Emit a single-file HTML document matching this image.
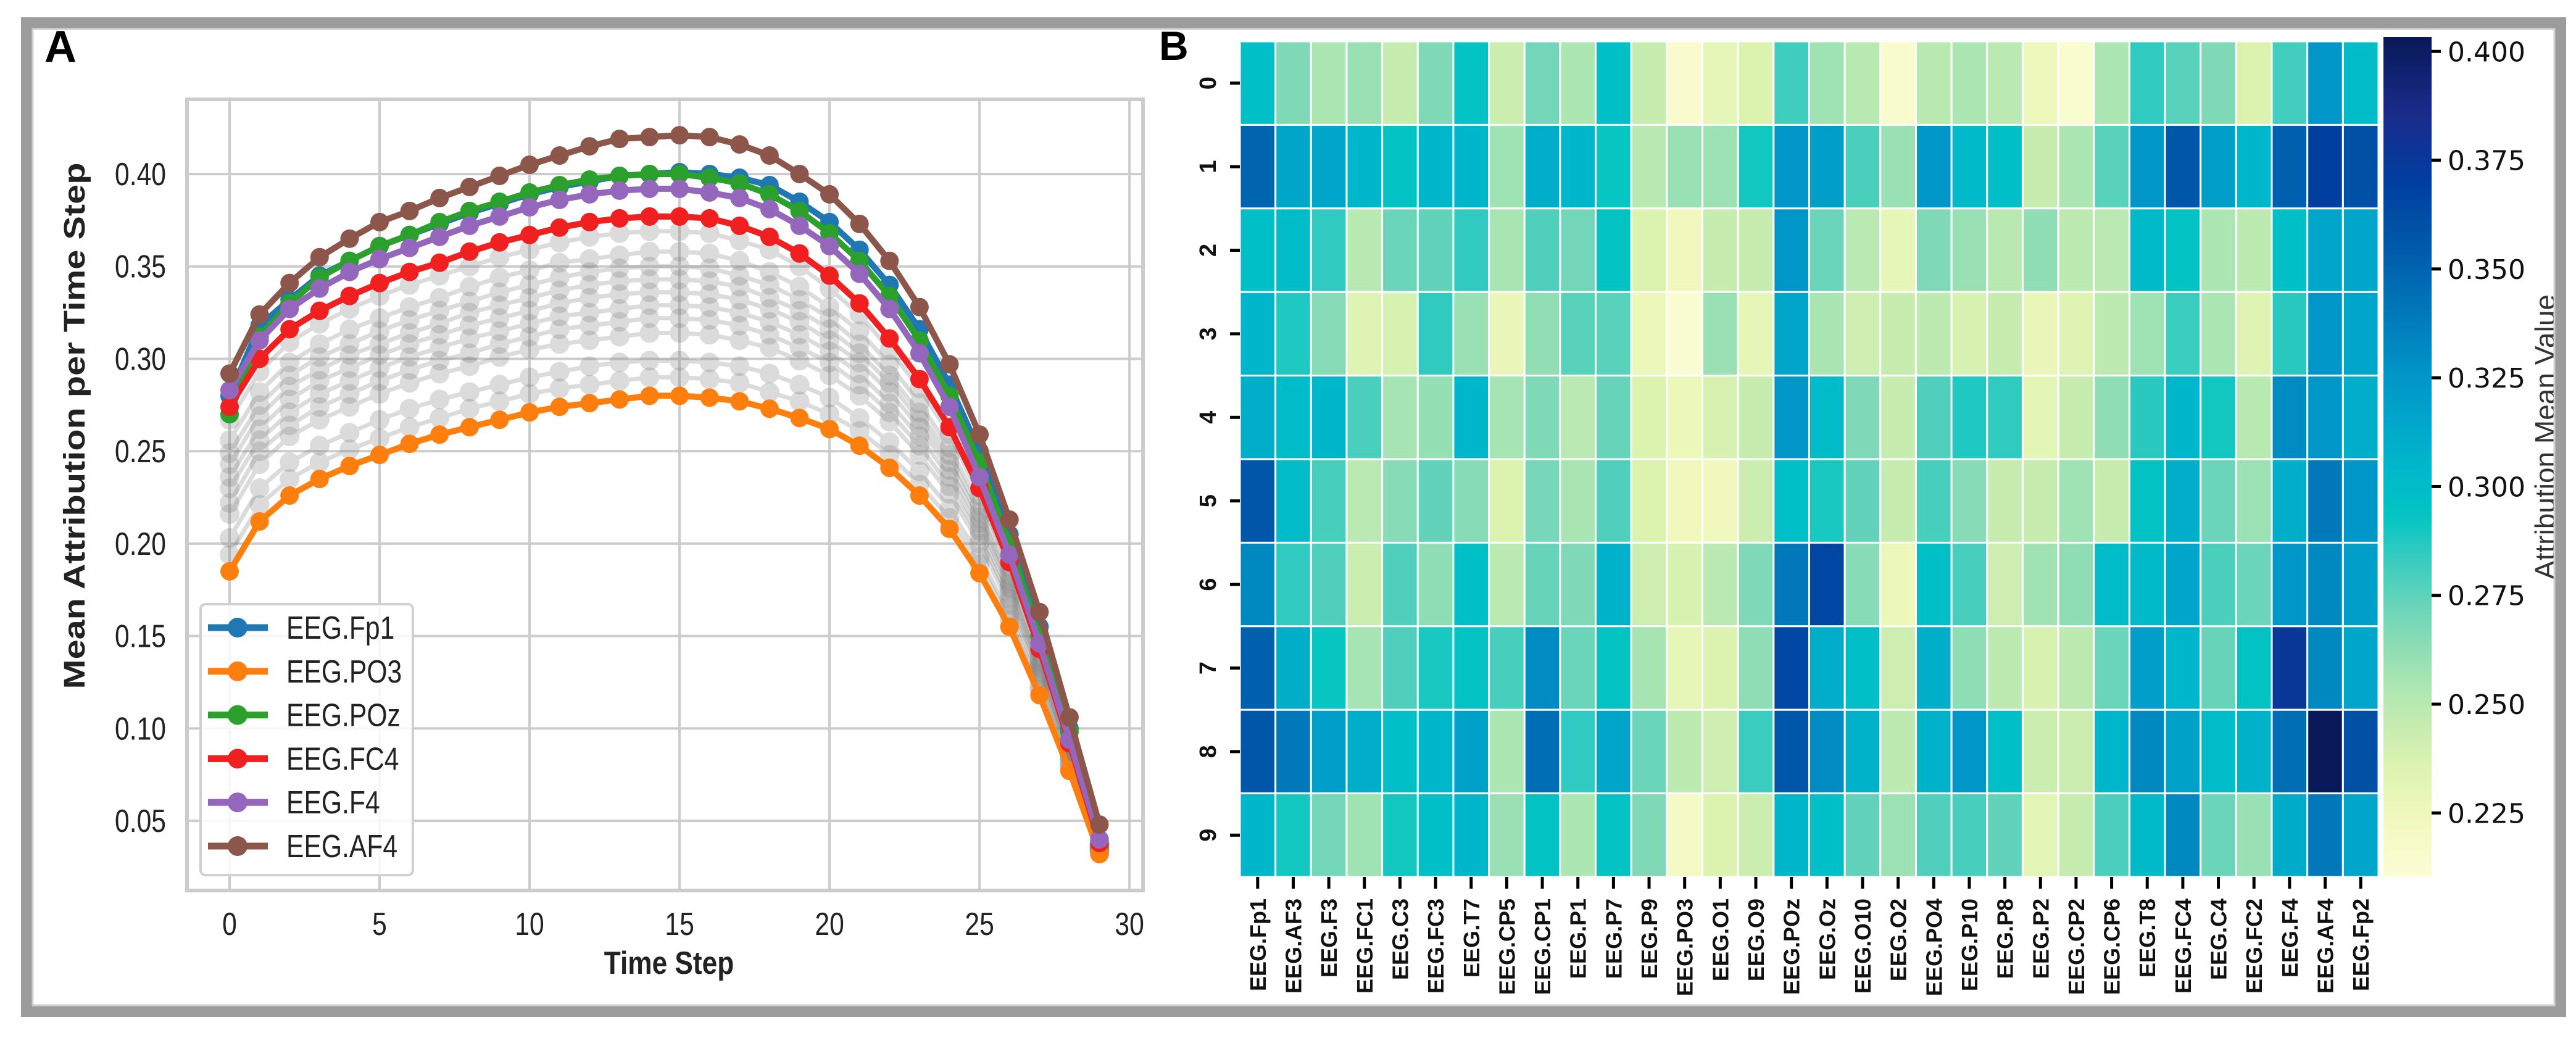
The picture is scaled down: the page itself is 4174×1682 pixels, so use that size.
<!DOCTYPE html>
<html><head><meta charset="utf-8"><style>
html,body{margin:0;padding:0;background:#fff;}
svg{display:block;}
</style></head><body>
<svg id="fig" xmlns="http://www.w3.org/2000/svg" width="4174" height="1682" viewBox="0 0 4174 1682">
<rect x="0" y="0" width="4174" height="1682" fill="#fff"/>
<g id="panelA"></g>
<g id="panelB"></g>
<text x="72" y="100" font-family="Liberation Sans, sans-serif" font-weight="bold" font-size="72">A</text>
<text x="1878" y="97" font-family="Liberation Sans, sans-serif" font-weight="bold" font-size="66">B</text>
<rect x="43" y="37" width="4106" height="1602" fill="none" stroke="#9c9c9c" stroke-width="18"/>
<rect x="53" y="47" width="4086" height="1582" fill="none" stroke="#d0d0d0" stroke-width="3"/>
</svg>
<script>
// ---------- Panel A data ----------
const timeSteps = [0,1,2,3,4,5,6,7,8,9,10,11,12,13,14,15,16,17,18,19,20,21,22,23,24,25,26,27,28,29];
const seriesNames = ["EEG.Fp1","EEG.PO3","EEG.POz","EEG.FC4","EEG.F4","EEG.AF4"];
const seriesColors = ["#1f77b4","#ff7f0e","#2ca02c","#f02020","#9467bd","#8c564b"];
const fp1 = [.280,.318,.332,.345,.353,.361,.367,.373,.379,.384,.389,.393,.396,.399,.400,.401,.400,.398,.394,.385,.374,.359,.340,.316,.286,.250,.205,.155,.100,.040];
const po3 = [.185,.212,.226,.235,.242,.248,.254,.259,.263,.267,.271,.274,.276,.278,.280,.280,.279,.277,.273,.268,.262,.253,.241,.226,.208,.184,.155,.118,.077,.032];
const poz = [.270,.312,.330,.344,.353,.361,.367,.374,.380,.385,.390,.394,.397,.399,.400,.400,.398,.395,.389,.380,.368,.353,.334,.310,.280,.244,.200,.150,.098,.040];
const fc4 = [.274,.300,.316,.326,.334,.341,.347,.352,.358,.363,.367,.371,.374,.376,.377,.377,.376,.372,.366,.357,.345,.330,.311,.289,.263,.230,.190,.143,.092,.038];
const f4  = [.283,.310,.327,.338,.347,.354,.360,.366,.372,.377,.382,.386,.389,.391,.392,.392,.390,.387,.381,.372,.361,.346,.327,.303,.274,.236,.194,.146,.094,.040];
const af4 = [.292,.324,.341,.355,.365,.374,.380,.387,.393,.399,.405,.410,.415,.419,.420,.421,.420,.416,.410,.400,.389,.373,.353,.328,.297,.259,.213,.163,.106,.048];
const gray1 = [.194,.221,.235,.244,.251,.257,.263,.268,.273,.277,.281,.284,.286,.288,.290,.290,.289,.287,.282,.277,.270,.261,.248,.232,.214,.189,.159,.121,.079,.033];
const gray2 = [.203,.230,.244,.253,.260,.267,.273,.278,.282,.286,.290,.293,.296,.298,.299,.299,.298,.296,.292,.286,.279,.268,.255,.239,.219,.193,.162,.123,.080,.033];
const gray3 = [.216,.243,.258,.267,.274,.281,.287,.292,.296,.301,.305,.308,.310,.312,.314,.314,.313,.310,.306,.299,.291,.280,.266,.248,.227,.200,.167,.127,.082,.034];
const gray4 = [.230,.256,.271,.281,.288,.295,.301,.306,.311,.315,.319,.323,.325,.327,.329,.329,.328,.325,.320,.313,.304,.292,.276,.258,.236,.207,.173,.131,.085,.035];
const gray5 = [.243,.269,.285,.294,.302,.308,.314,.319,.325,.329,.333,.337,.340,.342,.343,.343,.342,.339,.333,.326,.316,.303,.287,.267,.244,.214,.178,.134,.087,.036];
const gray6 = [.249,.275,.291,.301,.308,.315,.321,.326,.331,.336,.340,.344,.347,.349,.350,.350,.349,.345,.340,.332,.322,.308,.291,.271,.248,.217,.180,.136,.088,.037];
const gray7 = [.256,.282,.298,.308,.316,.322,.328,.333,.339,.344,.348,.352,.354,.356,.358,.358,.357,.353,.347,.339,.328,.315,.297,.276,.252,.221,.183,.138,.089,.037];
const gray8 = [.267,.293,.309,.319,.327,.334,.340,.345,.350,.355,.359,.363,.366,.368,.369,.369,.368,.364,.359,.350,.338,.324,.305,.284,.259,.226,.187,.141,.091,.038];
const gray9 = [.222,.250,.264,.274,.281,.288,.294,.299,.303,.308,.312,.316,.318,.320,.322,.322,.321,.318,.313,.306,.298,.286,.271,.253,.231,.204,.170,.129,.084,.035];
const gray10 = [.236,.262,.278,.288,.295,.302,.308,.313,.318,.322,.326,.330,.333,.335,.336,.336,.335,.332,.327,.320,.310,.298,.282,.263,.240,.211,.176,.133,.086,.036];
const xTicks = [0,5,10,15,20,25,30];
const yTicks = [0.05,0.10,0.15,0.20,0.25,0.30,0.35,0.40];
const yTickLabels = ["0.05","0.10","0.15","0.20","0.25","0.30","0.35","0.40"];

// ---------- Panel B data ----------
const channels = ["EEG.Fp1","EEG.AF3","EEG.F3","EEG.FC1","EEG.C3","EEG.FC3","EEG.T7","EEG.CP5","EEG.CP1","EEG.P1","EEG.P7","EEG.P9","EEG.PO3","EEG.O1","EEG.O9","EEG.POz","EEG.Oz","EEG.O10","EEG.O2","EEG.PO4","EEG.P10","EEG.P8","EEG.P2","EEG.CP2","EEG.CP6","EEG.T8","EEG.FC4","EEG.C4","EEG.FC2","EEG.F4","EEG.AF4","EEG.Fp2"];
const rowLabels = ["0","1","2","3","4","5","6","7","8","9"];
const heatRow0 = [.298,.267,.254,.260,.245,.267,.295,.243,.270,.254,.298,.245,.215,.230,.236,.282,.258,.250,.216,.250,.254,.249,.225,.214,.254,.285,.276,.267,.236,.281,.325,.300];
const heatRow1 = [.350,.315,.315,.305,.295,.305,.305,.258,.310,.305,.292,.250,.260,.259,.290,.325,.320,.279,.260,.325,.302,.298,.245,.254,.276,.325,.357,.320,.305,.352,.370,.360];
const heatRow2 = [.298,.300,.285,.250,.272,.274,.285,.255,.278,.270,.295,.236,.224,.245,.245,.325,.272,.249,.230,.267,.260,.250,.263,.248,.249,.302,.295,.254,.248,.298,.315,.315];
const heatRow3 = [.305,.288,.265,.234,.238,.285,.260,.228,.262,.276,.276,.227,.213,.260,.230,.315,.255,.242,.245,.248,.238,.245,.228,.234,.248,.258,.283,.254,.234,.286,.325,.315];
const heatRow4 = [.310,.300,.305,.279,.256,.261,.305,.256,.267,.249,.273,.236,.227,.238,.245,.325,.300,.267,.245,.278,.288,.285,.232,.245,.263,.286,.305,.290,.250,.330,.325,.310];
const heatRow5 = [.357,.300,.280,.249,.265,.274,.265,.236,.269,.255,.278,.236,.224,.224,.243,.298,.289,.274,.245,.280,.265,.245,.245,.258,.245,.295,.310,.272,.259,.310,.340,.325];
const heatRow6 = [.332,.285,.278,.243,.278,.263,.298,.249,.273,.267,.308,.242,.238,.249,.267,.340,.365,.265,.227,.298,.280,.242,.258,.263,.300,.302,.315,.279,.272,.325,.332,.320];
const heatRow7 = [.352,.310,.292,.256,.278,.289,.295,.280,.330,.272,.295,.256,.230,.236,.263,.365,.310,.298,.242,.310,.263,.248,.238,.248,.272,.320,.305,.273,.295,.375,.332,.315];
const heatRow8 = [.357,.340,.320,.310,.298,.305,.318,.254,.345,.285,.315,.272,.248,.242,.283,.357,.330,.308,.248,.308,.325,.298,.243,.243,.305,.332,.318,.300,.308,.345,.403,.360];
const heatRow9 = [.305,.290,.270,.258,.290,.298,.305,.260,.295,.254,.295,.267,.220,.236,.243,.305,.298,.274,.259,.278,.280,.274,.232,.245,.279,.302,.332,.272,.260,.312,.340,.315];
const heatRows = [heatRow0,heatRow1,heatRow2,heatRow3,heatRow4,heatRow5,heatRow6,heatRow7,heatRow8,heatRow9];
const cbTicks = [0.225,0.250,0.275,0.300,0.325,0.350,0.375,0.400];
const cbTickLabels = ["0.225","0.250","0.275","0.300","0.325","0.350","0.375","0.400"];
const cmapVals = [.2103,.225,.236,.245,.254,.262,.270,.278,.285,.292,.297,.305,.315,.325,.333,.345,.357,.370,.385,.4033];
const cmapCols = ["#fdfdd6","#eff8bc","#dcf3b0","#c6ecb0","#ace6b2","#92deb4","#74d6b8","#50d0bc","#30cac0","#08c6c2","#00c0c6","#00b6ca","#00a6ca","#0096c8","#0086c0","#006eb4","#0056a8","#003ea0","#1a2c8c","#081858"];

const NS = "http://www.w3.org/2000/svg";
function mk(parent, tag, attrs, txt){
  const e = document.createElementNS(NS, tag);
  for (const k in attrs) e.setAttribute(k, attrs[k]);
  if (txt !== undefined) e.textContent = txt;
  parent.appendChild(e);
  return e;
}

// ---------- Panel A ----------
const A = document.getElementById('panelA');
const aL = 303, aR = 1852, aT = 161, aB = 1443;
const xMin = -1.42, xMax = 30.45, yMin = 0.0123, yMax = 0.4404;
function xA(t){ return aL + (t - xMin) / (xMax - xMin) * (aR - aL); }
function yA(v){ return aT + (yMax - v) / (yMax - yMin) * (aB - aT); }
const NARROW = "Liberation Sans Narrow, Liberation Sans, sans-serif";

xTicks.forEach(t => {
  const g = mk(A, 'line', {x1:xA(t), x2:xA(t), y1:aT, y2:aB, stroke:'#cccccc', 'stroke-width':4});
  
  
  const tx = mk(A, 'text', {transform:`translate(${xA(t)},1515) scale(0.82,1)`, 'text-anchor':'middle', 'font-family':NARROW, 'font-size':52, fill:'#222'}, String(t));
  
  
});
yTicks.forEach((v, i) => {
  const g = mk(A, 'line', {x1:aL, x2:aR, y1:yA(v), y2:yA(v), stroke:'#cccccc', 'stroke-width':4});
  
  
  const tx = mk(A, 'text', {transform:`translate(269,${yA(v)+18}) scale(0.82,1)`, 'text-anchor':'end', 'font-family':NARROW, 'font-size':52, fill:'#222'}, yTickLabels[i]);
  
  
});
const spine = mk(A, 'rect', {x:aL, y:aT, width:aR-aL, height:aB-aT, fill:'none', stroke:'#cccccc', 'stroke-width':6});



const xt = mk(A, 'text', {transform:'translate(1084,1578) scale(0.85,1)', 'text-anchor':'middle', 'font-family':NARROW, 'font-weight':'bold', 'font-size':52, fill:'#222'}, 'Time Step');


const yt = mk(A, 'text', {transform:'translate(137,690) rotate(-90)', 'text-anchor':'middle', 'font-family':'Liberation Sans, sans-serif', 'font-weight':'bold', 'font-size':48, fill:'#222', textLength:853, lengthAdjust:'spacingAndGlyphs'}, 'Mean Attribution per Time Step');



function drawSeries(vals, color, opacity, name, r, lw){
  const g = mk(A, 'g', {opacity: opacity});
  
  
  const pts = timeSteps.map((t, i) => xA(t).toFixed(1) + ',' + yA(vals[i]).toFixed(1)).join(' ');
  const pl = mk(g, 'polyline', {points:pts, fill:'none', stroke:color, 'stroke-width':lw, 'stroke-linejoin':'round'});
  
  
  timeSteps.forEach((t, i) => {
    const c = mk(g, 'circle', {cx:xA(t), cy:yA(vals[i]), r:r, fill:color});
    
    
  });
}
const grays = [gray1,gray2,gray9,gray3,gray10,gray4,gray5,gray6,gray7,gray8];
grays.forEach((s, k) => drawSeries(s, '#808080', 0.28, 'other-channel-' + (k+1), 16, 7));
const mains = [fp1, po3, poz, fc4, f4, af4];
mains.forEach((s, k) => drawSeries(s, seriesColors[k], 1, seriesNames[k].toLowerCase().replace('.', '-'), 15, 10));

// legend
const lg = mk(A, 'g', {});


const lbox = mk(lg, 'rect', {x:325, y:979, width:344, height:439, rx:8, fill:'#ffffff', 'fill-opacity':0.85, stroke:'#d0d0d0', 'stroke-width':4});


seriesNames.forEach((n, i) => {
  const y = 1017 + i * 70.8;
  const e = mk(lg, 'g', {});
  
  
  mk(e, 'line', {x1:337, x2:434, y1:y, y2:y, stroke:seriesColors[i], 'stroke-width':11});
  mk(e, 'circle', {cx:385, cy:y, r:16, fill:seriesColors[i]});
  mk(e, 'text', {transform:`translate(464,${y+18}) scale(0.82,1)`, 'font-family':NARROW, 'font-size':52, fill:'#222'}, n);
});

// ---------- Panel B ----------
const B = document.getElementById('panelB');
const hL = 2009, hR = 3854, hT = 67, hB = 1421;
const cw = (hR - hL) / channels.length, rh = (hB - hT) / rowLabels.length;
const vMin = 0.2103, vMax = 0.4033;
function hexToRgb(h){ return [parseInt(h.slice(1,3),16), parseInt(h.slice(3,5),16), parseInt(h.slice(5,7),16)]; }
function cmap(v){
  if (v <= cmapVals[0]) return cmapCols[0];
  for (let i = 1; i < cmapVals.length; i++){
    if (v <= cmapVals[i]){
      const f = (v - cmapVals[i-1]) / (cmapVals[i] - cmapVals[i-1]);
      const a = hexToRgb(cmapCols[i-1]), b = hexToRgb(cmapCols[i]);
      return 'rgb(' + a.map((c, j) => Math.round(c + (b[j] - c) * f)).join(',') + ')';
    }
  }
  return cmapCols[cmapCols.length - 1];
}
heatRows.forEach((row, r) => {
  row.forEach((v, c) => {
    const cell = mk(B, 'rect', {x:hL + c*cw, y:hT + r*rh, width:cw, height:rh, fill:cmap(v), stroke:'#ffffff', 'stroke-width':3});
    
    
  });
});
rowLabels.forEach((l, r) => {
  const cy = hT + (r + 0.5) * rh;
  const tk = mk(B, 'line', {x1:1993, x2:hL, y1:cy, y2:cy, stroke:'#000', 'stroke-width':5});
  
  
  const t = mk(B, 'text', {transform:`translate(1970,${cy}) rotate(-90)`, 'text-anchor':'middle', 'font-family':'Liberation Sans, sans-serif', 'font-weight':'bold', 'font-size':38, fill:'#111'}, l);
  
  
});
channels.forEach((ch, c) => {
  const cx = hL + (c + 0.5) * cw;
  const tk = mk(B, 'line', {x1:cx, x2:cx, y1:hB, y2:1440, stroke:'#000', 'stroke-width':5});
  
  
  const t = mk(B, 'text', {transform:`translate(${cx+13},1456) rotate(-90)`, 'text-anchor':'end', 'font-family':'Liberation Sans, sans-serif', 'font-weight':'bold', 'font-size':36, fill:'#111'}, ch);
  
  
});

// colorbar
const defs = mk(B, 'defs', {});
const grad = mk(defs, 'linearGradient', {id:'cbgrad', x1:0, y1:1, x2:0, y2:0});
cmapVals.forEach((v, i) => {
  mk(grad, 'stop', {offset:((v - vMin) / (vMax - vMin)).toFixed(4), 'stop-color':cmapCols[i]});
});
const cbL = 3862, cbR = 3940, cbT = 60, cbB = 1421;
function yCb(v){ return cbB - (v - vMin) / (vMax - vMin) * (cbB - cbT); }
const cb = mk(B, 'rect', {x:cbL, y:cbT, width:cbR-cbL, height:cbB-cbT, fill:'url(#cbgrad)'});


cbTicks.forEach((v, i) => {
  const y = yCb(v);
  const tk = mk(B, 'line', {x1:cbR, x2:3955, y1:y, y2:y, stroke:'#000', 'stroke-width':5});
  
  
  const t = mk(B, 'text', {x:3966, y:y+16, 'font-family':'DejaVu Sans, sans-serif', 'font-size':44, fill:'#111'}, cbTickLabels[i]);
  
  
});
const cbt = mk(B, 'text', {transform:'translate(4140,708) rotate(-90)', 'text-anchor':'middle', 'font-family':'Liberation Sans, sans-serif', 'font-size':46, fill:'#333'}, 'Attribution Mean Value');


</script>
</body></html>
